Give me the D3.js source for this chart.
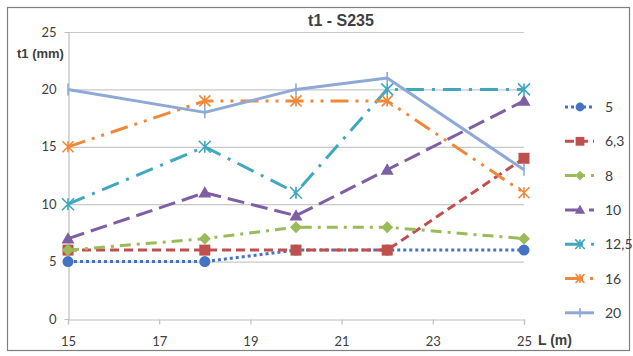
<!DOCTYPE html>
<html>
<head>
<meta charset="utf-8">
<script src="https://cdn.jsdelivr.net/npm/d3@7"></script>
<style>
  html, body { margin: 0; padding: 0; background: #fff; }
  svg { display: block; }
  text { font-family: Lato, "Open Sans", sans-serif; fill: #404040; }
</style>
</head>
<body>
<svg id="chart" width="633" height="356"></svg>
<script>
// Span lengths L (m)
const lengths = [15, 18, 20, 22, 25];
// Thickness t1 (mm) per plate series
const seriesNames = ["5", "6,3", "8", "10", "12,5", "16", "20"];
const s5   = [5, 5, 6, 6, 6];
const s63  = [6, 6, 6, 6, 14];
const s8   = [6, 7, 8, 8, 7];
const s10  = [7, 11, 9, 13, 19];
const s125 = [10, 15, 11, 20, 20];
const s16  = [15, 19, 19, 19, 11];
const s20  = [20, 18, 20, 21, 13];
const xTicks = [15, 17, 19, 21, 23, 25];
const yTicks = [0, 5, 10, 15, 20, 25];

const seriesValues = [s5, s63, s8, s10, s125, s16, s20];
const styles = [
  { color: "#4472C4", dash: "3 3",            marker: "circle" },
  { color: "#C0504D", dash: "9 5",            marker: "square" },
  { color: "#9BBB59", dash: "11 6 3 6",       marker: "diamond" },
  { color: "#7E5FA3", dash: "17 7",           marker: "triangle" },
  { color: "#3FA7BE", dash: "18 8 3 8",       marker: "asterisk" },
  { color: "#F0883A", dash: "18 7 3 7 3 7",   marker: "star" },
  { color: "#8EA9D6", dash: null,             marker: "plus" }
];

const svg = d3.select("#chart");

// outer frame
svg.append("rect").attr("x", 7.5).attr("y", 7.5).attr("width", 622).attr("height", 343)
  .attr("fill", "none").attr("stroke", "#7f7f7f").attr("stroke-width", 1.2);

const x = d3.scaleLinear().domain([15, 25]).range([68, 524]);
const y = d3.scaleLinear().domain([0, 25]).range([319, 32]);

// horizontal gridlines
svg.append("g").selectAll("line").data(yTicks.filter(d => d > 0)).join("line")
  .attr("x1", x(15)).attr("x2", x(25))
  .attr("y1", d => y(d) + 0.5).attr("y2", d => y(d) + 0.5)
  .attr("stroke", "#c8c8c8").attr("stroke-width", 1.2);

// axes
const yAxis = d3.axisLeft(y).tickValues(yTicks).tickSize(4).tickPadding(8);
const gy = svg.append("g").attr("transform", `translate(${x(15) + 0.5},0)`).call(yAxis);
const xAxis = d3.axisBottom(x).tickValues(xTicks).tickSize(5).tickPadding(12);
const gx = svg.append("g").attr("transform", `translate(0,${y(0) + 0.5})`).call(xAxis);
[gx, gy].forEach(g => {
  g.select(".domain").attr("stroke", "#bfbfbf").attr("stroke-width", 1.2);
  g.selectAll(".tick line").attr("stroke", "#bfbfbf").attr("stroke-width", 1.2);
  g.selectAll(".tick text").style("font-family", "Lato, 'Open Sans', sans-serif")
    .style("font-size", "13px").attr("fill", "#404040");
});
gy.selectAll(".tick line").attr("x2", 0);

// markers
function drawMarker(g, type, cx, cy, color, s) {
  const k = s || 1;
  if (type === "circle") {
    g.append("circle").attr("cx", cx).attr("cy", cy).attr("r", 5.5 * k).attr("fill", color);
  } else if (type === "square") {
    g.append("rect").attr("x", cx - 5.5 * k).attr("y", cy - 5.5 * k)
      .attr("width", 11 * k).attr("height", 11 * k).attr("fill", color);
  } else if (type === "diamond") {
    const r = 6 * k;
    g.append("path").attr("d", `M${cx},${cy - r}L${cx + r},${cy}L${cx},${cy + r}L${cx - r},${cy}Z`).attr("fill", color);
  } else if (type === "triangle") {
    const r = 6.5 * k;
    g.append("path").attr("d", `M${cx},${cy - r}L${cx + r},${cy + r * 0.75}L${cx - r},${cy + r * 0.75}Z`).attr("fill", color);
  } else if (type === "asterisk" || type === "star") {
    const r = (type === "asterisk" ? 6 : 5.5) * k;
    const p = `M${cx - r},${cy - r}L${cx + r},${cy + r}M${cx - r},${cy + r}L${cx + r},${cy - r}M${cx},${cy - r}L${cx},${cy + r}`;
    g.append("path").attr("d", p).attr("stroke", color).attr("stroke-width", 1.6).attr("fill", "none");
  } else if (type === "plus") {
    const r = 6 * k;
    g.append("path").attr("d", `M${cx},${cy - r}L${cx},${cy + r}`)
      .attr("stroke", color).attr("stroke-width", 1.6).attr("fill", "none");
  }
}

const line = d3.line().x((d, i) => x(lengths[i])).y(d => y(d));

seriesValues.forEach((vals, si) => {
  const st = styles[si];
  const g = svg.append("g");
  g.append("path").datum(vals).attr("d", line)
    .attr("fill", "none").attr("stroke", st.color).attr("stroke-width", 3)
    .attr("stroke-dasharray", st.dash).attr("stroke-linejoin", "round");
  vals.forEach((v, i) => drawMarker(g, st.marker, x(lengths[i]), y(v), st.color, 1));
});

// legend
const legendY0 = 107, legendStep = 34.3;
seriesNames.forEach((name, i) => {
  const st = styles[i];
  const ly = legendY0 + i * legendStep;
  const g = svg.append("g");
  g.append("line").attr("x1", 565).attr("x2", 594).attr("y1", ly).attr("y2", ly)
    .attr("stroke", st.color).attr("stroke-width", 3).attr("stroke-dasharray", st.dash);
  drawMarker(g, st.marker, 580, ly, st.color, 0.8);
  g.append("text").attr("x", 605).attr("y", ly + 5).style("font-size", "14px").text(name);
});

// title and axis titles
svg.append("text").attr("x", 341).attr("y", 26).attr("text-anchor", "middle")
  .style("font-family", "'Liberation Sans', Arial, sans-serif").style("font-weight", "bold")
  .style("font-size", "16px").attr("fill", "#333").text("t1 - S235");
svg.append("text").attr("x", 17).attr("y", 58)
  .style("font-family", "'Liberation Sans', Arial, sans-serif").style("font-weight", "bold")
  .style("font-size", "13px").attr("fill", "#333").text("t1 (mm)");
svg.append("text").attr("x", 538).attr("y", 345)
  .style("font-family", "'Liberation Sans', Arial, sans-serif").style("font-weight", "bold")
  .style("font-size", "14px").attr("fill", "#333").text("L (m)");
</script>
</body>
</html>
